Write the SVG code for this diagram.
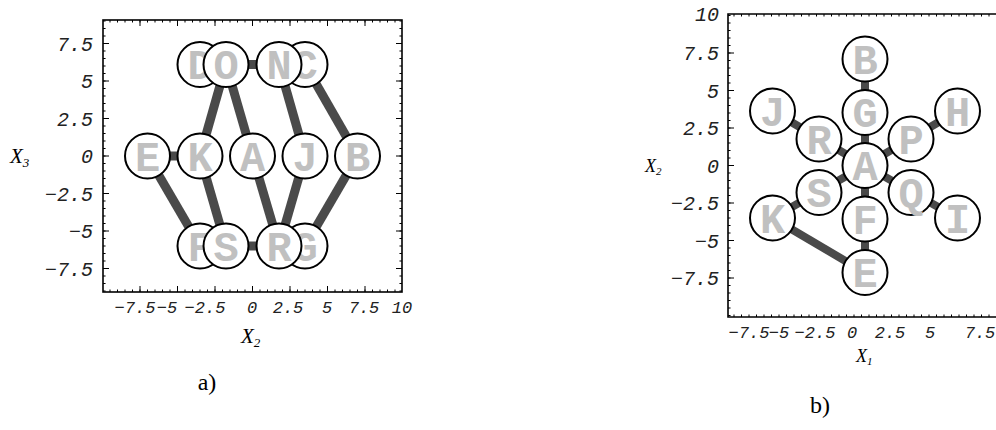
<svg xmlns="http://www.w3.org/2000/svg" width="996" height="430" viewBox="0 0 996 430">
<style>
  .frame { fill: none; stroke: #000; stroke-width: 1.6; }
  .minor { fill: none; stroke: #000; stroke-width: 2.5; stroke-dasharray: 1 6.5; }
  .major { fill: none; stroke: #000; stroke-width: 1; }
  .edge { stroke: #4a4a4a; stroke-width: 9; stroke-linecap: butt; fill: none; }
  .edgeb { stroke: #4a4a4a; stroke-width: 8; stroke-linecap: butt; fill: none; }
  .node circle { fill: #fff; stroke: #000; stroke-width: 2; }
  .node text { font-family: "Liberation Mono", "DejaVu Sans Mono", monospace; font-weight: bold; font-size: 42px; fill: #c0c0c0; text-anchor: middle; }
  .tick { font-family: "Liberation Mono", "DejaVu Sans Mono", monospace; font-style: oblique; fill: #222; }
  .ty { font-size: 20px; text-anchor: end; }
  .tx { font-size: 17px; text-anchor: middle; }
  .axt { font-family: "Liberation Serif", "Times New Roman", serif; font-style: italic; fill: #000; }
  .cap { font-family: "Liberation Serif", "Times New Roman", serif; font-size: 24px; fill: #000; text-anchor: middle; }
</style>

<!-- Panel a frame and ticks -->
<g id="frame-a">
  <rect class="frame" x="103" y="20" width="299" height="272"/>
  <line class="minor" x1="104.3" y1="20.5" x2="104.3" y2="292"/>
  <line class="minor" x1="400.7" y1="20.5" x2="400.7" y2="292"/>
  <line class="minor" x1="109.5" y1="21.3" x2="402" y2="21.3"/>
  <line class="minor" x1="109.5" y1="290.7" x2="402" y2="290.7"/>
  <path class="major" d="M103 43.5h6M103 81h6M103 118.5h6M103 156h6M103 193.5h6M103 231h6M103 268.5h6
    M402 43.5h-6M402 81h-6M402 118.5h-6M402 156h-6M402 193.5h-6M402 231h-6M402 268.5h-6
    M140 292v-6M177.5 292v-6M215 292v-6M252.5 292v-6M290 292v-6M327.5 292v-6M365 292v-6
    M140 20v6M177.5 20v6M215 20v6M252.5 20v6M290 20v6M327.5 20v6M365 20v6"/>
</g>
<g id="ticks-a">
  <text class="tick ty" x="93" y="50.5">7.5</text>
  <text class="tick ty" x="93" y="88">5</text>
  <text class="tick ty" x="93" y="125.5">2.5</text>
  <text class="tick ty" x="93" y="163">0</text>
  <text class="tick ty" x="93" y="200.5">−2.5</text>
  <text class="tick ty" x="93" y="238">−5</text>
  <text class="tick ty" x="93" y="275.5">−7.5</text>
  <text class="tick tx" x="135" y="313">−7.5</text>
  <text class="tick tx" x="167" y="313">−5</text>
  <text class="tick tx" x="205" y="313">−2.5</text>
  <text class="tick tx" x="252" y="313">0</text>
  <text class="tick tx" x="288" y="313">2.5</text>
  <text class="tick tx" x="327" y="313">5</text>
  <text class="tick tx" x="364" y="313">7.5</text>
  <text class="tick tx" x="402" y="313">10</text>
  <text class="axt" x="10" y="163" font-size="21">X<tspan font-size="13" dy="4">3</tspan></text>
  <text class="axt" x="241" y="343" font-size="21">X<tspan font-size="13" dy="4">2</tspan></text>
  <text class="cap" x="207" y="390">a)</text>
</g>

<!-- Panel a connectors -->
<g id="edges-a">
  <line class="edge" x1="226" y1="64.5" x2="279" y2="64.5"/>
  <line class="edge" x1="147.5" y1="156" x2="200" y2="156"/>
  <line class="edge" x1="226" y1="246" x2="279" y2="246"/>
  <line class="edge" x1="200" y1="156" x2="226" y2="64.5"/>
  <line class="edge" x1="252.5" y1="156" x2="226" y2="64.5"/>
  <line class="edge" x1="279" y1="64.5" x2="305" y2="156"/>
  <line class="edge" x1="305" y1="64.5" x2="357.5" y2="156"/>
  <line class="edge" x1="147.5" y1="156" x2="200" y2="246"/>
  <line class="edge" x1="200" y1="156" x2="226" y2="246"/>
  <line class="edge" x1="252.5" y1="156" x2="279" y2="246"/>
  <line class="edge" x1="305" y1="156" x2="279" y2="246"/>
  <line class="edge" x1="357.5" y1="156" x2="305" y2="246"/>
</g>

<!-- Panel a nodes -->
<g id="a-E" class="node"><circle cx="147.5" cy="156" r="22.5"/><text x="147.5" y="170.5">E</text></g>
<g id="a-K" class="node"><circle cx="200" cy="156" r="22.5"/><text x="200" y="170.5">K</text></g>
<g id="a-A" class="node"><circle cx="252.5" cy="156" r="22.5"/><text x="252.5" y="170.5">A</text></g>
<g id="a-J" class="node"><circle cx="305" cy="156" r="22.5"/><text x="305" y="170.5">J</text></g>
<g id="a-B" class="node"><circle cx="357.5" cy="156" r="22.5"/><text x="357.5" y="170.5">B</text></g>
<g id="a-D" class="node"><circle cx="200" cy="64.5" r="22.5"/><text x="200" y="79">D</text></g>
<g id="a-O" class="node"><circle cx="226" cy="64.5" r="22.5"/><text x="226" y="79">O</text></g>
<g id="a-C" class="node"><circle cx="305" cy="64.5" r="22.5"/><text x="305" y="79">C</text></g>
<g id="a-N" class="node"><circle cx="279" cy="64.5" r="22.5"/><text x="279" y="79">N</text></g>
<g id="a-F" class="node"><circle cx="200" cy="246" r="22.5"/><text x="200" y="260.5">F</text></g>
<g id="a-S" class="node"><circle cx="226" cy="246" r="22.5"/><text x="226" y="260.5">S</text></g>
<g id="a-G" class="node"><circle cx="305" cy="246" r="22.5"/><text x="305" y="260.5">G</text></g>
<g id="a-R" class="node"><circle cx="279" cy="246" r="22.5"/><text x="279" y="260.5">R</text></g>

<!-- Panel b frame and ticks -->
<g id="frame-b">
  <path class="frame" d="M1000 14H728V317H1000"/>
  <line class="minor" x1="729.3" y1="15" x2="729.3" y2="317"/>
  <line class="minor" x1="733.5" y1="15.3" x2="1000" y2="15.3"/>
  <line class="minor" x1="733.5" y1="315.7" x2="1000" y2="315.7"/>
  <path class="major" d="M728 53h6M728 90.5h6M728 128h6M728 165.5h6M728 203h6M728 240.5h6M728 278h6"/>
</g>
<g id="ticks-b">
  <text class="tick ty" x="719" y="21">10</text>
  <text class="tick ty" x="719" y="60">7.5</text>
  <text class="tick ty" x="719" y="97.5">5</text>
  <text class="tick ty" x="719" y="135">2.5</text>
  <text class="tick ty" x="719" y="172.5">0</text>
  <text class="tick ty" x="719" y="210">−2.5</text>
  <text class="tick ty" x="719" y="247.5">−5</text>
  <text class="tick ty" x="719" y="285">−7.5</text>
  <text class="tick tx" x="749" y="338">−7.5</text>
  <text class="tick tx" x="779" y="338">−5</text>
  <text class="tick tx" x="815" y="338">−2.5</text>
  <text class="tick tx" x="852" y="338">0</text>
  <text class="tick tx" x="890" y="338">2.5</text>
  <text class="tick tx" x="930" y="338">5</text>
  <text class="tick tx" x="980" y="338">7.5</text>
  <text class="axt" x="645" y="172" font-size="18">X<tspan font-size="11" dy="3">2</tspan></text>
  <text class="axt" x="856" y="362" font-size="18">X<tspan font-size="11" dy="3">1</tspan></text>
  <text class="cap" x="820" y="413">b)</text>
</g>

<!-- Panel b connectors -->
<g id="edges-b">
  <line class="edgeb" x1="865" y1="59" x2="865" y2="272.5"/>
  <line class="edgeb" x1="865" y1="165.5" x2="772.5" y2="111"/>
  <line class="edgeb" x1="865" y1="165.5" x2="957.5" y2="111"/>
  <line class="edgeb" x1="865" y1="165.5" x2="772.5" y2="218"/>
  <line class="edgeb" x1="865" y1="165.5" x2="957.5" y2="218"/>
  <line class="edgeb" x1="772.5" y1="218" x2="865" y2="272.5"/>
</g>

<!-- Panel b nodes -->
<g id="b-B" class="node"><circle cx="865" cy="59" r="22.5"/><text x="865" y="73.5">B</text></g>
<g id="b-G" class="node"><circle cx="865" cy="112.5" r="22.5"/><text x="865" y="127">G</text></g>
<g id="b-J" class="node"><circle cx="772.5" cy="111" r="22.5"/><text x="772.5" y="125.5">J</text></g>
<g id="b-H" class="node"><circle cx="957.5" cy="111" r="22.5"/><text x="957.5" y="125.5">H</text></g>
<g id="b-R" class="node"><circle cx="819" cy="139" r="22.5"/><text x="819" y="153.5">R</text></g>
<g id="b-P" class="node"><circle cx="911" cy="139" r="22.5"/><text x="911" y="153.5">P</text></g>
<g id="b-A" class="node"><circle cx="865" cy="165.5" r="22.5"/><text x="865" y="180">A</text></g>
<g id="b-S" class="node"><circle cx="819" cy="192.5" r="22.5"/><text x="819" y="207">S</text></g>
<g id="b-Q" class="node"><circle cx="911" cy="192.5" r="22.5"/><text x="911" y="207">Q</text></g>
<g id="b-K" class="node"><circle cx="772.5" cy="218" r="22.5"/><text x="772.5" y="232.5">K</text></g>
<g id="b-I" class="node"><circle cx="957.5" cy="218" r="22.5"/><text x="957.5" y="232.5">I</text></g>
<g id="b-F" class="node"><circle cx="865" cy="219" r="22.5"/><text x="865" y="233.5">F</text></g>
<g id="b-E" class="node"><circle cx="865" cy="272.5" r="22.5"/><text x="865" y="287">E</text></g>
</svg>
